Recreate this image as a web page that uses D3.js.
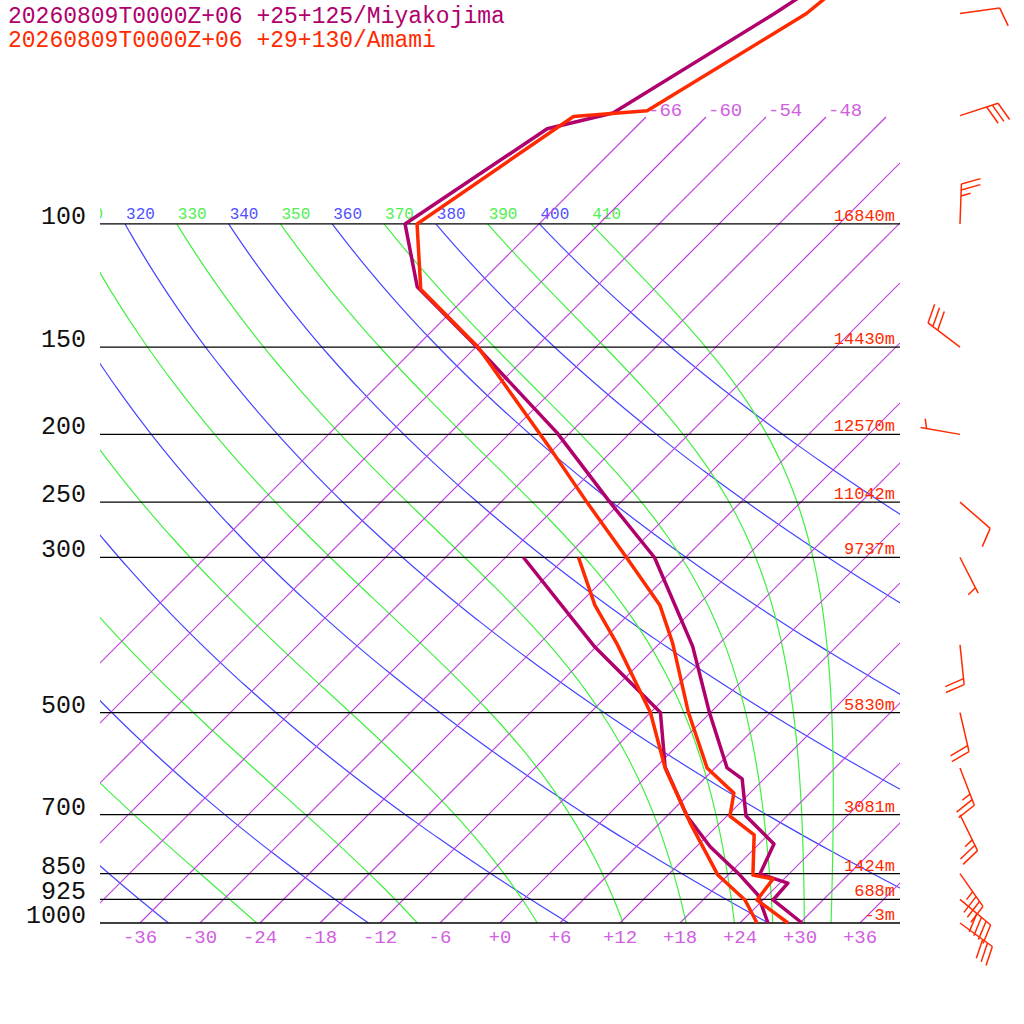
<!DOCTYPE html>
<html>
<head>
<meta charset="utf-8">
<script src="https://cdn.jsdelivr.net/npm/d3@7"></script>
<style>
body { margin: 0; background: #fff; }
text { font-family: "Liberation Mono", "DejaVu Sans Mono", monospace; }
</style>
</head>
<body>
<svg width="1024" height="1024"></svg>
<script>
const svg = d3.select("svg"),
    left = 100, right = 900, bottom = 923;

// soundings: [pressure hPa, temperature C]
const miyakoTemp = [[45,-61.8],[50,-63.5],[69.4,-69.7],[73.1,-74.7],[100,-79.4],[123,-71.9],[150,-59.9],[199,-43.3],[250,-31.1],[300,-21.1],[402,-8.4],[500,-0.1],[600,7.2],[622,9.8],[703,13.9],[771,19.5],[851,21.1],[877,24.8],[927,25.0],[1000,30.2]];
const miyakoDew = [[300,-34.2],[403,-18.1],[500,-5.0],[598,0.9],[703,8.0],[778,13.4],[854,19.2],[912,23.0],[1000,26.8]];
const amamiTemp = [[45,-59.6],[50,-60.3],[68.9,-66.5],[70.2,-73.3],[100,-78.2],[124,-71.3],[150,-59.8],[208,-42.8],[250,-33.4],[300,-23.9],[351,-15.8],[398,-10.7],[500,-2.2],[600,5.2],[652,10.4],[703,12.3],[748,16.6],[854,20.5],[865,22.9],[927,23.4],[1000,28.8]];
const amamiDew = [[300,-28.7],[351,-22.3],[398,-16.3],[500,-6.0],[600,1.0],[719,9.0],[854,17.0],[927,22.2],[1000,25.7]];

const levels = [100, 150, 200, 250, 300, 500, 700, 850, 925, 1000];
const heights = ["16840m","14430m","12570m","11042m","9737m","5830m","3081m","1424m","688m","-3m"];
const tempTicks = [-36,-30,-24,-18,-12,-6,0,6,12,18,24,30,36];
const topIsotherms = [-66,-60,-54,-48];
const dryThetas = [220,240,260,280,300,320,340,360,380,400];
const moistThetas = [250,270,290,310,330,350,370,390,410];
const labelledThetas = [310,320,330,340,350,360,370,380,390,400,410];

// wind (Amami): [pressure, direction deg, speed kt]
const windP = [50,70,100,150,200,250,300,400,500,600,700,850,925,1000];
const windDir = [82,72,2,307,280,131,153,174,167,159,154,145,130,126];
const windSpd = [10,30,25,30,5,10,5,20,20,25,25,35,40,30];

const titles = ["20260809T0000Z+06 +25+125/Miyakojima", "20260809T0000Z+06 +29+130/Amami"];
const purple = "#b0006c", red = "#ff2a00";

const yScale = d3.scaleLog().domain([1000, 100]).range([bottom, bottom - 303.6 * Math.log(10)]);
const tScale = d3.scaleLinear().domain([0, 10]).range([500, 600]);
const sx = (p, t) => tScale(t) + (bottom - yScale(p));

svg.append("defs").append("clipPath").attr("id", "plot")
    .append("rect").attr("x", left).attr("y", yScale(100)).attr("width", right - left).attr("height", bottom - yScale(100));
svg.select("defs").append("clipPath").attr("id", "wide")
    .append("rect").attr("x", left).attr("y", 0).attr("width", right - left).attr("height", bottom);

const line = d3.line().x(d => sx(d[0], d[1])).y(d => yScale(d[0]));
const pGrid = d3.range(0, 201).map(i => 100 * Math.pow(10, i / 200));

// dry adiabats
const gDry = svg.append("g").attr("clip-path", "url(#plot)");
dryThetas.forEach(th => {
    gDry.append("path").datum(pGrid.map(p => [p, th * Math.pow(p / 1000, 0.2857) - 273.15]))
        .attr("d", line).attr("fill", "none").attr("stroke", "#4444ff").attr("stroke-width", 1.2);
});

// moist adiabats, integrated down from 100 hPa
function moist(th) {
    let T = th * Math.pow(0.1, 0.2857), out = [];
    const Rd = 287, cp = 1004, L = 2.5e6, eps = 0.622;
    for (let i = 0; i < pGrid.length; i++) {
        const p = pGrid[i];
        out.push([p, T - 273.15]);
        if (i === pGrid.length - 1) break;
        const dp = pGrid[i + 1] - p;
        const sub = 10;
        for (let k = 0; k < sub; k++) {
            const pp = p + dp * k / sub;
            const es = 6.112 * Math.exp(17.67 * (T - 273.15) / (T - 29.65));
            const rs = eps * es / (pp - es);
            const dTdp = (Rd * T + L * rs) / (pp * (cp + L * L * rs * eps / (Rd * T * T)));
            T += dTdp * dp / sub;
        }
    }
    return out;
}
const gMoist = svg.append("g").attr("clip-path", "url(#plot)");
moistThetas.forEach(th => {
    gMoist.append("path").datum(moist(th))
        .attr("d", line).attr("fill", "none").attr("stroke", "#40f040").attr("stroke-width", 1.2);
});

// theta labels at 100 hPa
const gLab = svg.append("g").attr("clip-path", "url(#wide)");
labelledThetas.forEach(th => {
    const t = th * Math.pow(0.1, 0.2857) - 273.15;
    gLab.append("text").attr("x", sx(100, t) + 1).attr("y", yScale(100) - 5)
        .attr("font-size", 16).attr("fill", dryThetas.includes(th) ? "#5050ff" : "#50f050").text(th);
});

// isotherms
const pTopIso = 1000 * Math.exp(-806 / 303.6);
const gIso = svg.append("g").attr("clip-path", "url(#wide)");
d3.range(-66, 41, 6).forEach(t => {
    gIso.append("path").datum([[pTopIso, t], [1000, t]])
        .attr("d", line).attr("stroke", "#c040dc").attr("stroke-width", 1.2);
});
topIsotherms.forEach(t => {
    svg.append("text").attr("x", sx(pTopIso, t) + 2).attr("y", yScale(pTopIso) - 1)
        .attr("font-size", 19).attr("fill", "#d060e0").text(t);
});
tempTicks.forEach(t => {
    svg.append("text").attr("x", tScale(t)).attr("y", 943).attr("text-anchor", "middle")
        .attr("font-size", 19).attr("fill", "#d060e0").text((t >= 0 ? "+" : "") + t);
});

// pressure lines & labels
levels.forEach((p, i) => {
    svg.append("line").attr("x1", left).attr("x2", right).attr("y1", yScale(p)).attr("y2", yScale(p))
        .attr("stroke", "#000").attr("stroke-width", 1.3);
    svg.append("text").attr("x", 86).attr("y", yScale(p)).attr("text-anchor", "end")
        .attr("font-size", 25).attr("fill", "#111").text(p);
    svg.append("text").attr("x", 895).attr("y", yScale(p) - 3).attr("text-anchor", "end")
        .attr("font-size", 17).attr("fill", red).text(heights[i]);
});

// soundings
[[miyakoTemp, purple], [miyakoDew, purple], [amamiTemp, red], [amamiDew, red]].forEach(([d, c]) => {
    svg.append("path").datum(d).attr("d", line).attr("fill", "none")
        .attr("stroke", c).attr("stroke-width", 3.5).attr("stroke-linejoin", "round");
});

// wind barbs
windP.forEach((p, i) => {
    const x0 = 960, y0 = yScale(p), a = windDir[i] * Math.PI / 180, len = 40;
    const ux = Math.sin(a), uy = -Math.cos(a);
    const px = -uy, py = ux;
    const bx = 0.95 * px + 0.3 * ux, by = 0.95 * py + 0.3 * uy;
    const g = svg.append("g").attr("stroke", red).attr("stroke-width", 1.5);
    g.append("line").attr("x1", x0).attr("y1", y0).attr("x2", x0 + ux * len).attr("y2", y0 + uy * len);
    let s = windSpd[i], pos = len;
    if (s < 10) pos = len - 6;
    while (s >= 5) {
        const bl = s >= 10 ? 20 : 10;
        const sx0 = x0 + ux * pos, sy0 = y0 + uy * pos;
        g.append("line").attr("x1", sx0).attr("y1", sy0).attr("x2", sx0 + bx * bl).attr("y2", sy0 + by * bl);
        s -= s >= 10 ? 10 : 5;
        pos -= 6;
    }
});

titles.forEach((t, i) => {
    svg.append("text").attr("x", 8).attr("y", 23 + i * 24).attr("font-size", 23)
        .attr("fill", i === 0 ? purple : red).text(t);
});
</script>
</body>
</html>
